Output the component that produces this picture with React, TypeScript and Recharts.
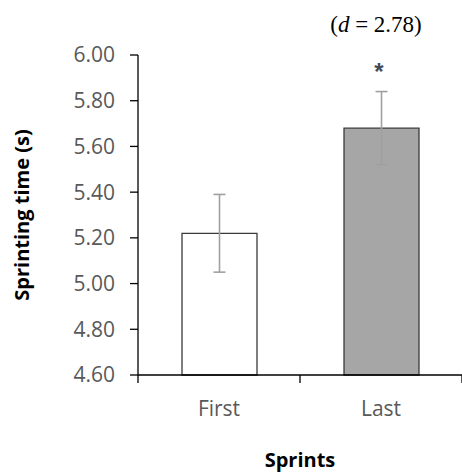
import { BarChart, Bar, XAxis, YAxis, Cell, ErrorBar, ReferenceDot, Label } from 'recharts';

// mean sprint time per sprint, with SD
const sprints = ['First', 'Last'];
const meanTimes = [5.22, 5.68];
const sdTimes = [0.17, 0.16];
const barFills = ['#ffffff', '#a6a6a6'];
const yTicks = [4.6, 4.8, 5.0, 5.2, 5.4, 5.6, 5.8, 6.0];

// significance marker + effect size
const starValue = 5.95;
const effectLabelValue = 6.1;
const effectSize = '2.78';

const data = sprints.map((s, i) => ({ sprint: s, time: meanTimes[i], sd: sdTimes[i] }));

const W = 462;
const H = 474;
const LEFT = 138;
const TOP = 55;
const PLOT_H = 320;
const halfBand = (W - LEFT) / sprints.length / 2;

const tickFont = { fontFamily: 'Open Sans', fontSize: 21, fill: '#595959' };

function XTick(props: any) {
  const { x, y, payload, index } = props;
  const axisY = y - 8;
  return (
    <g>
      <line x1={x - halfBand} x2={x - halfBand} y1={axisY} y2={axisY + 8} stroke="#000" strokeWidth={1.3} />
      {index === sprints.length - 1 && (
        <line x1={x + halfBand} x2={x + halfBand} y1={axisY} y2={axisY + 8} stroke="#000" strokeWidth={1.3} />
      )}
      <text x={x} y={axisY + 41} textAnchor="middle" {...tickFont}>{payload.value}</text>
    </g>
  );
}

export default function App() {
  return (
    <div style={{ position: 'absolute', left: 0, top: 0, width: W, height: H, background: '#fff' }}>
      <BarChart width={W} height={H} data={data} margin={{ top: TOP, right: 0, left: 0, bottom: 0 }} barSize={75}>
        <XAxis
          dataKey="sprint"
          height={H - TOP - PLOT_H}
          tickLine={false}
          tickSize={8}
          tickMargin={0}
          stroke="#000"
          strokeWidth={1.3}
          tick={<XTick />}
          interval={0}
        >
          <Label
            value="Sprints"
            position="insideBottom"
            offset={7}
            style={{ fontFamily: 'Open Sans', fontSize: 20, fontWeight: 700, fill: '#000' }}
          />
        </XAxis>
        <YAxis
          width={LEFT}
          domain={[4.6, 6.0]}
          ticks={yTicks}
          interval={0}
          tickFormatter={(v: number) => v.toFixed(2)}
          tickSize={8}
          tickMargin={15}
          stroke="#000"
          strokeWidth={1.3}
          tick={tickFont}
        >
          <Label
            value="Sprinting time (s)"
            angle={-90}
            position="insideLeft"
            offset={22}
            style={{ fontFamily: 'Open Sans', fontSize: 20, fontWeight: 700, fill: '#000', textAnchor: 'middle' }}
          />
        </YAxis>
        <Bar dataKey="time" stroke="#3a3a3a" strokeWidth={1.3} isAnimationActive={false}>
          {data.map((d, i) => (
            <Cell key={d.sprint} fill={barFills[i]} />
          ))}
          <ErrorBar dataKey="sd" width={6} stroke="#a0a0a0" strokeWidth={1.6} isAnimationActive={false} />
        </Bar>
        <ReferenceDot
          x="Last"
          y={starValue}
          r={0}
          ifOverflow="visible"
          shape={(p: any) => (
            <text x={p.cx - 2} y={p.cy + 14} textAnchor="middle" fontFamily="Liberation Sans" fontWeight={700} fontSize={24} fill="#3f4a5a">*</text>
          )}
        />
        <ReferenceDot
          x="Last"
          y={effectLabelValue}
          r={0}
          ifOverflow="visible"
          shape={(p: any) => (
            <text x={p.cx - 5} y={p.cy} textAnchor="middle" fontFamily="Liberation Serif" fontSize={23} fill="#000">
              (<tspan fontStyle="italic">d</tspan> = {effectSize})
            </text>
          )}
        />
      </BarChart>
    </div>
  );
}
